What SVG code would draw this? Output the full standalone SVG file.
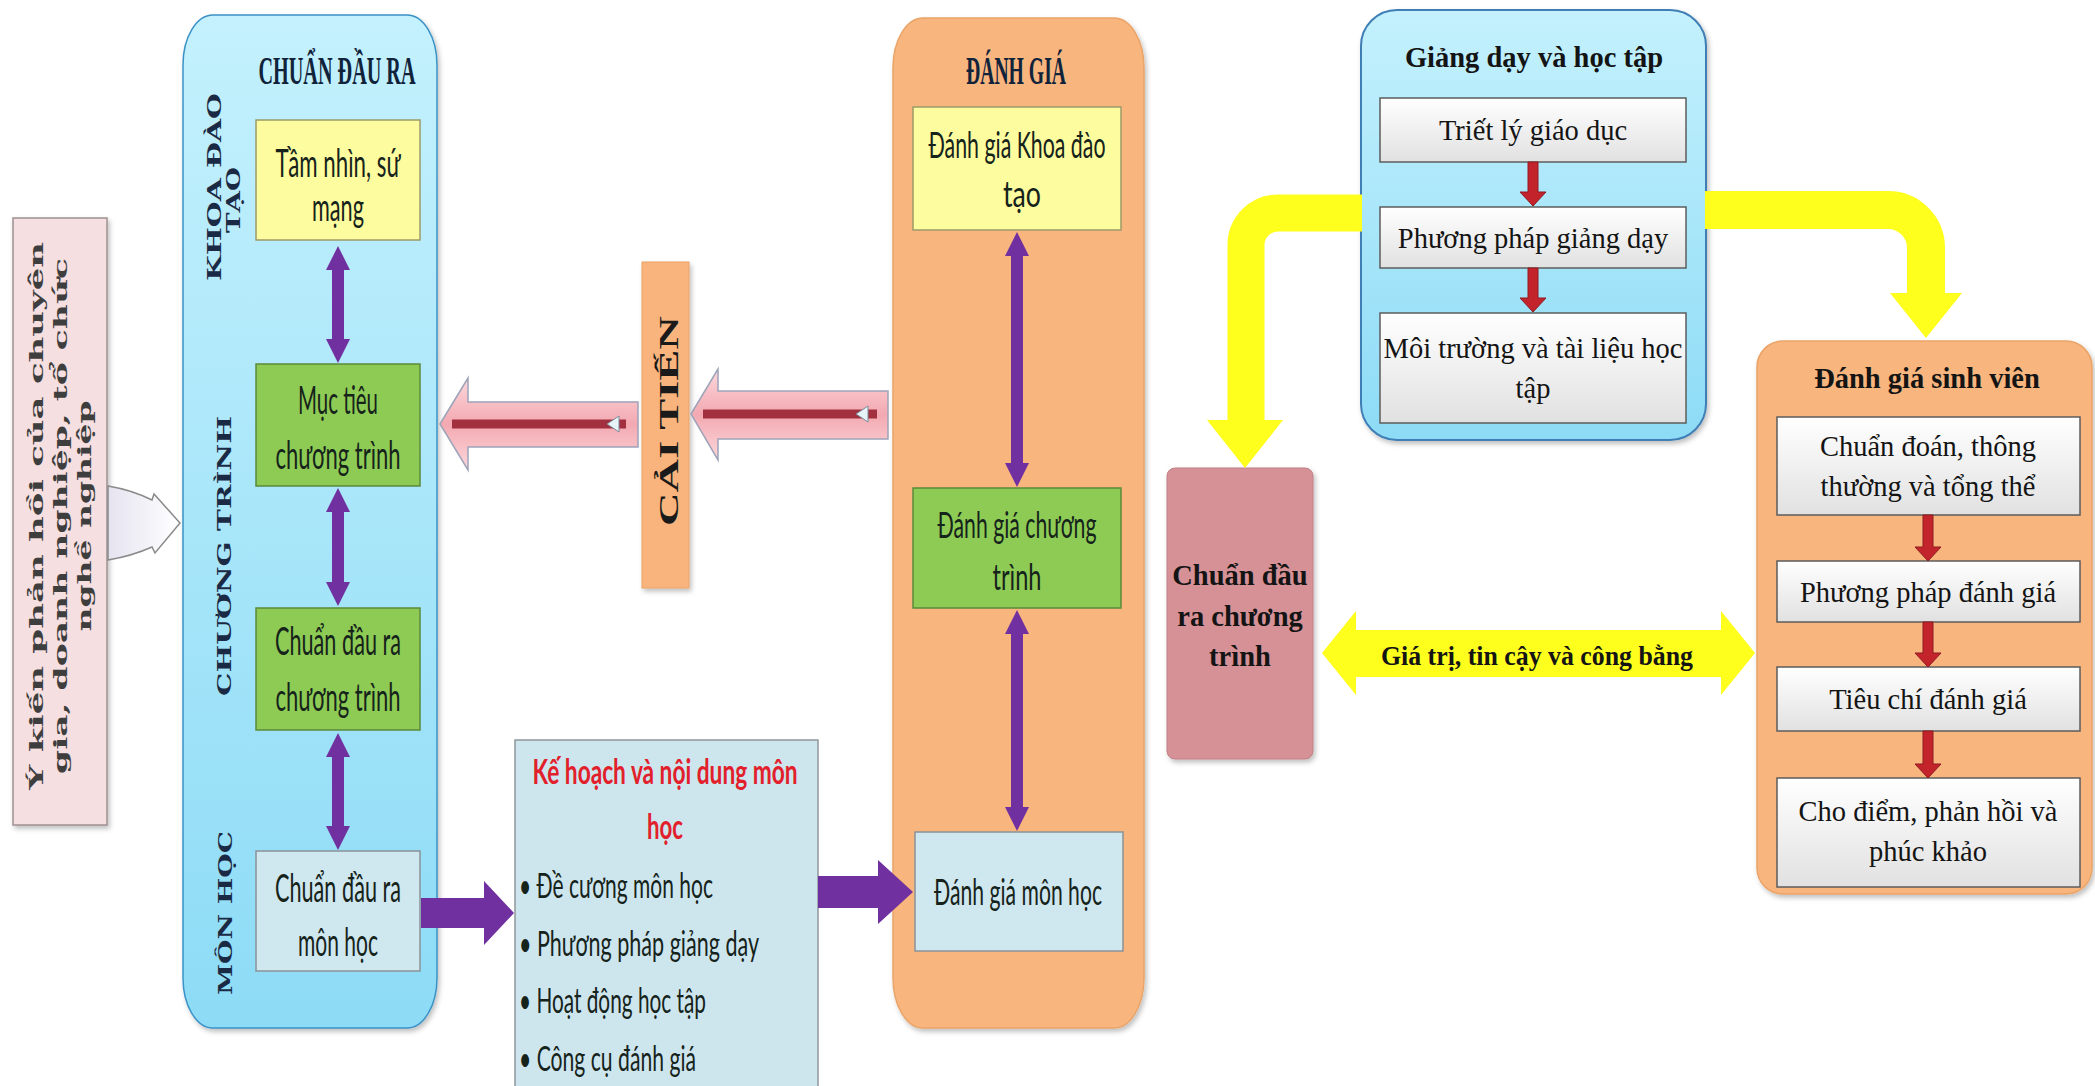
<svg xmlns="http://www.w3.org/2000/svg" width="2095" height="1086" viewBox="0 0 2095 1086">
<defs>
<linearGradient id="gBlue" x1="0" y1="0" x2="0" y2="1"><stop offset="0" stop-color="#c4f1fd"/><stop offset="1" stop-color="#8ddbf6"/></linearGradient>
<linearGradient id="gGray" x1="0" y1="0" x2="0" y2="1"><stop offset="0" stop-color="#ffffff"/><stop offset="1" stop-color="#e1e1e1"/></linearGradient>
<linearGradient id="gPinkA" x1="0" y1="0" x2="0" y2="1"><stop offset="0" stop-color="#fcd8dc"/><stop offset="0.5" stop-color="#f3a9b1"/><stop offset="1" stop-color="#fcd8dc"/></linearGradient>
<linearGradient id="gGrayA" x1="0" y1="0" x2="1" y2="0"><stop offset="0" stop-color="#e6e3f0"/><stop offset="1" stop-color="#ffffff"/></linearGradient>
<filter id="sh" x="-10%" y="-10%" width="130%" height="130%"><feDropShadow dx="2" dy="3" stdDeviation="2.5" flood-color="#000" flood-opacity="0.25"/></filter>
</defs>
<style>
.bx-y{fill:#fdfc9e;stroke:#9c9a6a;stroke-width:1.5}
.bx-g{fill:#8dcb55;stroke:#5b8a3a;stroke-width:1.5}
.bx-lb{fill:#cfe7ee;stroke:#8a9296;stroke-width:1.5}
.bx-w{fill:url(#gGray);stroke:#5c5c5c;stroke-width:1.5}
.cond{font-family:Lato,"Open Sans","Liberation Sans",sans-serif;font-size:39px;fill:#16231b;text-anchor:middle}
.condl{font-family:Lato,"Open Sans","Liberation Sans",sans-serif;font-size:35px;fill:#16231b}
.red-t{font-family:Lato,"Open Sans","Liberation Sans",sans-serif;font-size:35px;font-weight:bold;fill:#e2202b;text-anchor:middle}
.ttl{font-family:"Liberation Serif",serif;font-weight:bold;font-size:40px;fill:#10233a;text-anchor:middle}
.vl{font-family:"DejaVu Serif",serif;font-weight:bold;font-size:19px;fill:#1b2a44;text-anchor:middle}
.fb{font-family:"DejaVu Serif",serif;font-weight:bold;font-size:19px;fill:#3e3e3e;text-anchor:middle}
.tnr{font-family:"Liberation Serif","Times New Roman",serif;font-size:28.5px;fill:#141414;text-anchor:middle}
.tnrb{font-family:"Liberation Serif","Times New Roman",serif;font-size:28.5px;font-weight:bold;fill:#141414;text-anchor:middle}
.purple{fill:#7030a0}
.red{fill:#c3242c;stroke:#8e1a20;stroke-width:1}
.yel{fill:#ffff1e}
.yels{fill:none;stroke:#ffff1e}
.pinkA{fill:url(#gPinkA);stroke:#9ea3b8;stroke-width:1.5}
.redline{stroke:#a3303f;stroke-width:9;stroke-linecap:butt}
.tri{fill:#e6f4f8;stroke:#7a8a99;stroke-width:1}
</style>
<rect width="2095" height="1086" fill="#ffffff"/>

<!-- feedback -->
<g id="feedback">
<rect x="13" y="218" width="94" height="607" fill="#f5dfe0" stroke="#9f9090" stroke-width="1.5" filter="url(#sh)"/>
<text class="fb" transform="translate(43,516) rotate(-90)" textLength="548" lengthAdjust="spacingAndGlyphs">Ý kiến phản hồi của chuyên</text>
<text class="fb" transform="translate(67,516) rotate(-90)" textLength="516" lengthAdjust="spacingAndGlyphs">gia, doanh nghiệp, tổ chức</text>
<text class="fb" transform="translate(91,516) rotate(-90)" textLength="231" lengthAdjust="spacingAndGlyphs">nghề nghiệp</text>
</g>

<!-- left blue panel -->
<g id="panel-chuan-dau-ra">
<rect x="183" y="15" width="254" height="1013" rx="30" ry="50" fill="url(#gBlue)" stroke="#3a92c6" stroke-width="1.5" filter="url(#sh)"/>
<text class="ttl" x="337" y="84" textLength="157" lengthAdjust="spacingAndGlyphs">CHUẨN ĐẦU RA</text>
<text class="vl" transform="translate(221,187) rotate(-90)" textLength="188" lengthAdjust="spacingAndGlyphs">KHOA ĐÀO</text>
<text class="vl" transform="translate(240,200) rotate(-90)" textLength="66" lengthAdjust="spacingAndGlyphs">TẠO</text>
<text class="vl" transform="translate(231,556) rotate(-90)" textLength="280" lengthAdjust="spacingAndGlyphs">CHƯƠNG TRÌNH</text>
<text class="vl" transform="translate(232,913) rotate(-90)" textLength="164" lengthAdjust="spacingAndGlyphs">MÔN HỌC</text>
</g>
<g id="tam-nhin">
<rect class="bx-y" x="256" y="120" width="164" height="120"/>
<text class="cond" x="338" y="177" textLength="125" lengthAdjust="spacingAndGlyphs">Tầm nhìn, sứ</text>
<text class="cond" x="338" y="221" textLength="52" lengthAdjust="spacingAndGlyphs">mạng</text>
</g>
<g id="muc-tieu">
<rect class="bx-g" x="256" y="364" width="164" height="122"/>
<text class="cond" x="338" y="414" textLength="80" lengthAdjust="spacingAndGlyphs">Mục tiêu</text>
<text class="cond" x="338" y="469" textLength="125" lengthAdjust="spacingAndGlyphs">chương trình</text>
</g>
<g id="cdr-chuong-trinh">
<rect class="bx-g" x="256" y="608" width="164" height="122"/>
<text class="cond" x="338" y="655" textLength="126" lengthAdjust="spacingAndGlyphs">Chuẩn đầu ra</text>
<text class="cond" x="338" y="711" textLength="125" lengthAdjust="spacingAndGlyphs">chương trình</text>
</g>
<g id="cdr-mon-hoc">
<rect class="bx-lb" x="256" y="851" width="164" height="120"/>
<text class="cond" x="338" y="902" textLength="126" lengthAdjust="spacingAndGlyphs">Chuẩn đầu ra</text>
<text class="cond" x="338" y="956" textLength="80" lengthAdjust="spacingAndGlyphs">môn học</text>
</g>

<!-- cai tien -->
<g id="cai-tien">
<rect x="642" y="262" width="47" height="326" fill="#f8b47c" stroke="#eaa166" stroke-width="1" filter="url(#sh)"/>
<text class="ttl" transform="translate(678,421) rotate(-90)" style="font-size:27px;fill:#1a1a1a" textLength="210" lengthAdjust="spacingAndGlyphs">CẢI TIẾN</text>
</g>

<!-- ke hoach -->
<g id="ke-hoach">
<rect x="515" y="740" width="303" height="360" fill="#cde6ee" stroke="#8f979b" stroke-width="1.5"/>
<text class="red-t" x="665" y="784" textLength="265" lengthAdjust="spacingAndGlyphs">Kế hoạch và nội dung môn</text>
<text class="red-t" x="665" y="839" textLength="36" lengthAdjust="spacingAndGlyphs">học</text>
<text class="condl" x="519" y="898" textLength="194" lengthAdjust="spacingAndGlyphs">• Đề cương môn học</text>
<text class="condl" x="519" y="956" textLength="240" lengthAdjust="spacingAndGlyphs">• Phương pháp giảng dạy</text>
<text class="condl" x="519" y="1013" textLength="187" lengthAdjust="spacingAndGlyphs">• Hoạt động học tập</text>
<text class="condl" x="519" y="1071" textLength="177" lengthAdjust="spacingAndGlyphs">• Công cụ đánh giá</text>
</g>

<!-- orange panel -->
<g id="panel-danh-gia">
<rect x="893" y="18" width="251" height="1010" rx="30" ry="50" fill="#f8b57e" stroke="#eaa468" stroke-width="1.5" filter="url(#sh)"/>
<text class="ttl" x="1016" y="84" textLength="100" lengthAdjust="spacingAndGlyphs">ĐÁNH GIÁ</text>
</g>
<g id="dg-khoa">
<rect class="bx-y" x="913" y="107" width="208" height="123"/>
<text class="cond" style="font-size:37px" x="1017" y="158" textLength="177" lengthAdjust="spacingAndGlyphs">Đánh giá Khoa đào</text>
<text class="cond" style="font-size:37px" x="1022" y="207" textLength="38" lengthAdjust="spacingAndGlyphs">tạo</text>
</g>
<g id="dg-chuong-trinh">
<rect class="bx-g" x="913" y="488" width="208" height="120"/>
<text class="cond" style="font-size:37px" x="1017" y="538" textLength="159" lengthAdjust="spacingAndGlyphs">Đánh giá chương</text>
<text class="cond" style="font-size:37px" x="1017" y="590" textLength="49" lengthAdjust="spacingAndGlyphs">trình</text>
</g>
<g id="dg-mon-hoc">
<rect class="bx-lb" x="915" y="832" width="208" height="119"/>
<text class="cond" style="font-size:37px" x="1018" y="905" textLength="168" lengthAdjust="spacingAndGlyphs">Đánh giá môn học</text>
</g>

<!-- right blue box -->
<g id="giang-day">
<rect x="1361" y="10" width="345" height="430" rx="36" fill="url(#gBlue)" stroke="#3f7fb5" stroke-width="2" filter="url(#sh)"/>
<text class="tnrb" x="1534" y="67">Giảng dạy và học tập</text>
</g>
<g id="triet-ly">
<rect class="bx-w" x="1380" y="98" width="306" height="64"/>
<text class="tnr" x="1533" y="140">Triết lý giáo dục</text>
</g>
<g id="pp-giang-day">
<rect class="bx-w" x="1380" y="207" width="306" height="61"/>
<text class="tnr" x="1533" y="248">Phương pháp giảng dạy</text>
</g>
<g id="moi-truong">
<rect class="bx-w" x="1380" y="313" width="306" height="110"/>
<text class="tnr" x="1533" y="358">Môi trường và tài liệu học</text>
<text class="tnr" x="1533" y="398">tập</text>
</g>

<!-- pink outcome -->
<g id="cdr-ct-right">
<rect x="1167" y="468" width="146" height="291" rx="8" fill="#d69196" stroke="#c07f85" stroke-width="1" filter="url(#sh)"/>
<text class="tnrb" x="1240" y="585">Chuẩn đầu</text>
<text class="tnrb" x="1240" y="626">ra chương</text>
<text class="tnrb" x="1240" y="666">trình</text>
</g>

<!-- right orange box -->
<g id="dg-sinh-vien">
<rect x="1757" y="341" width="335" height="553" rx="26" fill="#f8b57e" stroke="#eaa468" stroke-width="1.5" filter="url(#sh)"/>
<text class="tnrb" x="1927" y="388">Đánh giá sinh viên</text>
</g>
<g id="chuan-doan">
<rect class="bx-w" x="1777" y="417" width="303" height="98"/>
<text class="tnr" x="1928" y="456">Chuẩn đoán, thông</text>
<text class="tnr" x="1928" y="496">thường và tổng thể</text>
</g>
<g id="pp-danh-gia">
<rect class="bx-w" x="1777" y="561" width="303" height="61"/>
<text class="tnr" x="1928" y="602">Phương pháp đánh giá</text>
</g>
<g id="tieu-chi">
<rect class="bx-w" x="1777" y="667" width="303" height="64"/>
<text class="tnr" x="1928" y="709">Tiêu chí đánh giá</text>
</g>
<g id="cho-diem">
<rect class="bx-w" x="1777" y="778" width="303" height="109"/>
<text class="tnr" x="1928" y="821">Cho điểm, phản hồi và</text>
<text class="tnr" x="1928" y="861">phúc khảo</text>
</g>

<!-- connectors -->
<g id="connectors">
<path d="M108,486 Q132,490 152,500 L154,494 L180,523 L155,553 L152,547 Q132,556 108,560 Z" fill="url(#gGrayA)" stroke="#8a8a8a" stroke-width="1.5"/>
<polygon class="purple" points="338,246 350,270 344,270 344,339 350,339 338,363 326,339 332,339 332,270 326,270"/>
<polygon class="purple" points="338,488 350,512 344,512 344,582 350,582 338,606 326,582 332,582 332,512 326,512"/>
<polygon class="purple" points="338,733 350,757 344,757 344,826 350,826 338,850 326,826 332,826 332,757 326,757"/>
<polygon class="purple" points="1017,232 1029,256 1023,256 1023,463 1029,463 1017,487 1005,463 1011,463 1011,256 1005,256"/>
<polygon class="purple" points="1017,610 1029,634 1023,634 1023,807 1029,807 1017,831 1005,807 1011,807 1011,634 1005,634"/>
<polygon class="purple" points="421,898 484,898 484,881 514,913 484,945 484,928 421,928"/>
<polygon class="purple" points="818,876 878,876 878,860 913,892 878,924 878,908 818,908"/>
<polygon class="pinkA" points="440,424 468,378 468,402 638,402 638,447 468,447 468,470"/>
<line class="redline" x1="452" y1="424" x2="626" y2="424"/>
<polygon class="tri" points="607,424 619,416 619,432"/>
<polygon class="pinkA" points="691,414 718,369 718,391 888,391 888,439 718,439 718,460"/>
<line class="redline" x1="703" y1="414" x2="877" y2="414"/>
<polygon class="tri" points="856,414 868,406 868,422"/>
<path class="yels" d="M1362,213 H1278 A32,32 0 0 0 1246,245 V422" stroke-width="37"/>
<polygon class="yel" points="1207,420 1283,420 1245,468"/>
<path class="yels" d="M1705,210 H1888 A38,38 0 0 1 1926,248 V295" stroke-width="38"/>
<polygon class="yel" points="1890,293 1962,293 1926,338"/>
<polygon class="yel" points="1322,653 1356,611 1356,630 1721,630 1721,611 1755,653 1721,695 1721,677 1356,677 1356,695"/>
<polygon class="red" points="1528,162 1538,162 1538,192 1546,192 1533,206 1520,192 1528,192"/>
<polygon class="red" points="1528,268 1538,268 1538,298 1546,298 1533,312 1520,298 1528,298"/>
<polygon class="red" points="1923,515 1933,515 1933,547 1941,547 1928,561 1915,547 1923,547"/>
<polygon class="red" points="1923,622 1933,622 1933,653 1941,653 1928,667 1915,653 1923,653"/>
<polygon class="red" points="1923,731 1933,731 1933,764 1941,764 1928,778 1915,764 1923,764"/>
<text class="tnrb" style="font-size:28px" x="1537" y="665" textLength="312" lengthAdjust="spacingAndGlyphs">Giá trị, tin cậy và công bằng</text>
</g>
</svg>
